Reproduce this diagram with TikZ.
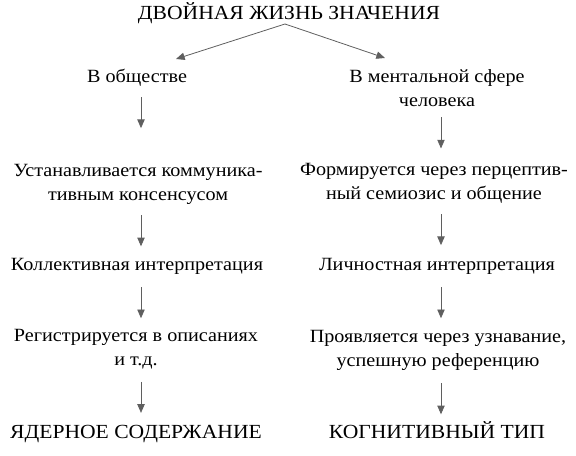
\documentclass[tikz,border=0pt]{standalone}
\usepackage{fontspec}
\setmainfont{Liberation Serif}[FakeStretch=1.08]
\usetikzlibrary{arrows.meta}
\definecolor{arrgray}{RGB}{95,95,95}

\begin{document}
\begin{tikzpicture}[x=0.75pt,y=-0.75pt,
        lbl/.style={anchor=base,inner sep=0pt,align=center,font=\fontsize{14}{18}\selectfont},
        caps/.style={lbl,font=\fontsize{15}{18}\selectfont},
        arr/.style={draw=arrgray,line width=0.6pt,-{Triangle[length=6.5pt,width=5.5pt]}}]
        \useasboundingbox (0,0) rectangle (576,456);
        \node[caps] (title) at (289,20) {ДВОЙНАЯ ЖИЗНЬ ЗНАЧЕНИЯ};
        \node[lbl] (soc) at (137,83) {В обществе};
        \node[lbl] (ment) at (437,107) {В ментальной сфере\\человека};
        \node[lbl] (cons) at (138,201) {Устанавливается коммуника-\\тивным консенсусом};
        \node[lbl] (semi) at (434,200) {Формируется через перцептив-\\ный семиозис и общение};
        \node[lbl] (coll) at (137,271) {Коллективная интерпретация};
        \node[lbl] (pers) at (437,271) {Личностная интерпретация};
        \node[lbl] (desc) at (136,366) {Регистрируется в описаниях\\и т.д.};
        \node[lbl] (recog) at (438,367) {Проявляется через узнавание,\\успешную референцию};
        \node[caps] (core) at (136,439) {ЯДЕРНОЕ СОДЕРЖАНИЕ};
        \node[caps] (type) at (437,439) {КОГНИТИВНЫЙ ТИП};
        \coordinate (fork) at (285,24);
        \coordinate (lend) at (176,59);
        \coordinate (rend) at (385,58);
        \coordinate (lx) at (141,0);
        \coordinate (rx) at (441,0);
        \draw[arr] (fork) -- (lend);
        \draw[arr] (fork) -- (rend);
        \draw[arr] (soc.south -| lx) ++(0,10) -- ++(0,31);
        \draw[arr] (ment.south -| rx) ++(0,10) -- ++(0,31);
        \draw[arr] (cons.south -| lx) ++(0,10) -- ++(0,31);
        \draw[arr] (semi.south -| rx) ++(0,10) -- ++(0,31);
        \draw[arr] (coll.south -| lx) ++(0,12) -- ++(0,31);
        \draw[arr] (pers.south -| rx) ++(0,12) -- ++(0,31);
        \draw[arr] (desc.south -| lx) ++(0,12) -- ++(0,31);
        \draw[arr] (recog.south -| rx) ++(0,12) -- ++(0,31);
    \end{tikzpicture}
\end{document}
